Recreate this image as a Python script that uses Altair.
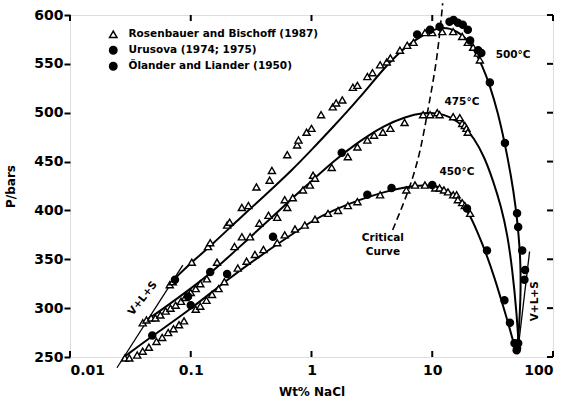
import altair as alt
import pandas as pd

# ---- isotherm curves: wt% NaCl vs pressure (bars) ----
c450_x = [0.028, 0.05, 0.1, 0.2, 0.4, 0.7, 1.0, 1.5, 2.5, 4, 6, 8.5, 11, 14, 17, 20, 23.5, 28, 33, 38, 43, 47, 50]
c450_p = [250, 273, 299, 329, 356, 376, 389, 400, 411, 419, 424, 426, 425, 419, 410, 398, 379, 356, 330, 305, 283, 265, 254]

c475_x = [0.040, 0.06, 0.1, 0.15, 0.25, 0.4, 0.7, 1.0, 1.5, 2.5, 4, 6, 8.5, 11, 14, 18, 22, 27, 32, 37, 42, 46, 50, 52]
c475_p = [285, 300, 320, 337, 362, 385, 413, 430, 450, 471, 487, 496, 500, 500, 496, 487, 475, 455, 430, 405, 375, 340, 295, 262]

c500_x = [0.064, 0.08, 0.1, 0.15, 0.25, 0.4, 0.7, 1.0, 1.5, 2.5, 4, 6, 8.5, 11, 14, 18, 22, 26, 30, 35, 40, 45, 49, 52, 54, 54, 52, 50.5]
c500_p = [321, 335, 346, 365, 391, 414, 442, 462, 485, 515, 546, 568, 580, 587, 587, 580, 566, 548, 528, 500, 468, 435, 405, 375, 345, 310, 275, 253]

# three-phase (V+L+S) boundaries and the critical curve
vls_left_x = [0.0245, 0.086]
vls_left_p = [239, 344]
vls_right_x = [51, 64]
vls_right_p = [255, 358]
crit_x = [4.7, 7.5, 9.1, 11, 12.2]
crit_p = [380, 441, 500, 554, 612]

# ---- measurements ----
rb450_x = [0.0285, 0.031, 0.036, 0.04, 0.045, 0.052, 0.058, 0.065, 0.072, 0.08, 0.088, 0.11, 0.12, 0.135, 0.15,
           0.17, 0.19, 0.245, 0.29, 0.34, 0.40, 0.52, 0.6, 0.73, 0.88, 1.07, 1.37, 1.66, 2.0, 2.4, 3.7, 6.1, 7.2,
           8.7, 10.6, 11.5, 12.5, 13.5, 14.9, 15.9, 16.3, 17.7, 18.6, 20.6]
rb450_p = [249, 249, 252, 256, 260, 266, 270, 275, 279, 283, 287, 299, 302, 308, 314,
           320, 327, 341, 348, 355, 360, 367, 375, 381, 385, 391, 397, 400, 405, 409, 416, 421, 426,
           426, 423, 423, 421, 419, 416, 416, 411, 408, 405, 397]

rb475_x = [0.040, 0.043, 0.047, 0.051, 0.056, 0.062, 0.068, 0.075, 0.083, 0.09, 0.1, 0.11, 0.12, 0.136, 0.165,
           0.23, 0.265, 0.31, 0.37, 0.44, 0.52, 0.6, 0.63, 0.7, 0.85, 0.97, 1.03, 1.07, 1.47, 2.0, 2.4, 2.9,
           3.3, 3.9, 4.5, 5.9, 8.4, 9.6, 11, 11.5, 14.9, 16.9, 17.7, 18.6, 19.2, 19.7]
rb475_p = [285, 288, 290, 290, 293, 297, 300, 303, 307, 311, 316, 320, 325, 330, 347,
           363, 373, 373, 387, 395, 393, 411, 403, 413, 421, 426, 436, 433, 444, 455, 465, 472,
           477, 480, 484, 490, 498, 498, 500, 498, 496, 495, 489, 487, 484, 480]

rb500_x = [0.067, 0.071, 0.102, 0.139, 0.145, 0.2, 0.21, 0.265, 0.3, 0.35, 0.45, 0.47, 0.63, 0.76, 0.78, 0.91,
           1.0, 1.2, 1.5, 1.6, 1.8, 2.2, 2.4, 2.9, 3.2, 3.7, 4.2, 4.5, 5.4, 6.2, 7.0, 8.7, 10, 12.1, 14.9,
           17.7, 19.7, 21.8, 23.9, 24.8]
rb500_p = [324, 327, 347, 363, 367, 385, 388, 403, 405, 424, 431, 441, 457, 467, 472, 480,
           484, 498, 506, 510, 513, 526, 528, 537, 541, 549, 552, 556, 564, 569, 572, 582, 582, 583, 583,
           578, 572, 567, 561, 554]

ur_x = [7.5, 9.6, 11.5, 13.9, 15.0, 16.3, 17.9, 19.7, 20.6, 24, 25.5, 30, 40, 50.4, 51.5, 55.6, 58.7, 58,
        51.5, 50.4, 19.4, 28.4, 39.6, 44, 48, 50, 1.78, 10]
ur_p = [580, 585, 588, 593, 595, 592, 590, 585, 574, 564, 561, 531, 469, 397, 383, 359, 339, 329,
        264, 259, 402, 359, 308, 285, 264, 257, 459, 426]

ol_x = [0.074, 0.095, 0.145, 0.048, 0.1, 0.2, 0.48, 2.9, 4.6]
ol_p = [329, 312, 337, 272, 303, 335, 373, 416, 423]

SOURCES = ["Rosenbauer and Bischoff (1987)", "Urusova (1974; 1975)", "Ölander and Liander (1950)"]

# ---- annotations ----
ann_text = ["500°C", "475°C", "450°C", "Critical", "Curve"]
ann_x = [46.7, 17.6, 16.0, 3.9, 3.9]
ann_p = [559, 511, 439, 372, 357]

vls_text = ["V+L+S", "V+L+S"]
vls_tx = [0.040, 71]
vls_tp = [310, 307]
vls_angle = [308, 270]

x_ticks = [0.01, 0.1, 1, 10, 100]
y_ticks = [250, 300, 350, 400, 450, 500, 550, 600]

W, H = 483, 342
FONT = "DejaVu Sans"

# ---- tables ----
def curve(name, xs, ps):
    return pd.DataFrame({"curve": name, "i": range(len(xs)), "x": xs, "p": ps})

solid = pd.concat([
    curve("450", c450_x, c450_p),
    curve("475", c475_x, c475_p),
    curve("500", c500_x, c500_p),
])
bounds = pd.concat([
    curve("vls_left", vls_left_x, vls_left_p),
    curve("vls_right", vls_right_x, vls_right_p),
])
crit = curve("critical", crit_x, crit_p)

pts = pd.concat([
    pd.DataFrame({"source": SOURCES[0], "x": rb450_x + rb475_x + rb500_x, "p": rb450_p + rb475_p + rb500_p}),
    pd.DataFrame({"source": SOURCES[1], "x": ur_x, "p": ur_p}),
    pd.DataFrame({"source": SOURCES[2], "x": ol_x, "p": ol_p}),
])
ann = pd.DataFrame({"t": ann_text, "x": ann_x, "p": ann_p})
vls = pd.DataFrame({"t": vls_text, "x": vls_tx, "p": vls_tp, "a": vls_angle})
xt = pd.DataFrame({"v": x_ticks})
yt = pd.DataFrame({"v": y_ticks})

xs = alt.Scale(type="log", domain=[0.01, 100])
ys = alt.Scale(domain=[250, 600])

# one axis definition shared by every layer
X_AX = alt.Axis(values=x_ticks, format="~g", ticks=False, title="Wt% NaCl", labelPadding=6,
                titlePadding=9, domain=False, grid=False, labelFont=FONT, labelFontWeight="bold",
                labelFontSize=14, labelColor="black", titleFont=FONT, titleFontWeight="bold",
                titleFontSize=12, titleColor="black")
Y_AX = alt.Axis(values=y_ticks, tickSize=6, tickWidth=2, tickColor="black", title="P/bars",
                labelPadding=1, titlePadding=16, domain=False, grid=False, labelFont=FONT,
                labelFontWeight="bold", labelFontSize=14, labelColor="black", titleFont=FONT,
                titleFontWeight="bold", titleFontSize=12, titleColor="black")

X = alt.X("x:Q", scale=xs, axis=X_AX)
Y = alt.Y("p:Q", scale=ys, axis=Y_AX)
XV = alt.X("v:Q", scale=xs, axis=X_AX)
YV = alt.Y("v:Q", scale=ys, axis=Y_AX)

lines = alt.Chart(solid).mark_line(color="black", strokeWidth=2, interpolate="basis").encode(
    x=X, y=Y, detail="curve:N", order="i:Q")
bound_lines = alt.Chart(bounds).mark_line(color="black", strokeWidth=1.3, clip=False).encode(
    x=X, y=Y, detail="curve:N", order="i:Q")
crit_line = alt.Chart(crit).mark_line(color="black", strokeWidth=1.6, strokeDash=[7, 4],
                                      interpolate="basis", clip=False).encode(
    x=X, y=Y, order="i:Q")

legend = alt.Legend(title=None, orient="none", legendX=38, legendY=14, labelFont=FONT,
                    labelFontWeight="bold", labelFontSize=10.5, labelColor="black", labelLimit=0,
                    symbolSize=55, symbolStrokeWidth=1.5, rowPadding=2, labelOffset=10, padding=0)
points = alt.Chart(pts).mark_point(filled=True, strokeWidth=1.4, opacity=1, size=50).encode(
    x=X, y=Y,
    shape=alt.Shape("source:N", scale=alt.Scale(domain=SOURCES, range=["triangle-up", "circle", "circle"]),
                    legend=legend),
    fill=alt.Fill("source:N", scale=alt.Scale(domain=SOURCES, range=["white", "black", "black"]),
                  legend=legend),
    stroke=alt.Stroke("source:N", scale=alt.Scale(domain=SOURCES, range=["black", "black", "black"]),
                      legend=legend),
)

labels = alt.Chart(ann).mark_text(font=FONT, fontWeight="bold", fontSize=10.5, color="black").encode(
    x=X, y=Y, text="t:N")
vls_labels = alt.Chart(vls).mark_text(font=FONT, fontWeight="bold", fontSize=10.5, color="black").encode(
    x=X, y=Y, text="t:N", angle=alt.Angle("a:Q", scale=None))

# inward ticks on the bottom, top and right edges
bottom_ticks = alt.Chart(xt).mark_rule(color="black", strokeWidth=2).encode(
    x=XV, y=alt.value(H), y2=alt.value(H - 6))
top_ticks = alt.Chart(xt).mark_rule(color="black", strokeWidth=2).encode(
    x=XV, y=alt.value(0), y2=alt.value(6))
right_ticks = alt.Chart(yt).mark_rule(color="black", strokeWidth=2).encode(
    y=YV, x=alt.value(W), x2=alt.value(W - 6))

chart = alt.layer(
    lines, bound_lines, crit_line, points, labels, vls_labels,
    bottom_ticks, top_ticks, right_ticks,
).properties(
    width=W, height=H, autosize="none",
    padding={"left": 70, "top": 15, "right": 16, "bottom": 47},
).configure_view(
    stroke="black", strokeWidth=2.5,
).configure(background="white")

chart.save("out.html", embed_options={"renderer": "svg", "actions": False})
